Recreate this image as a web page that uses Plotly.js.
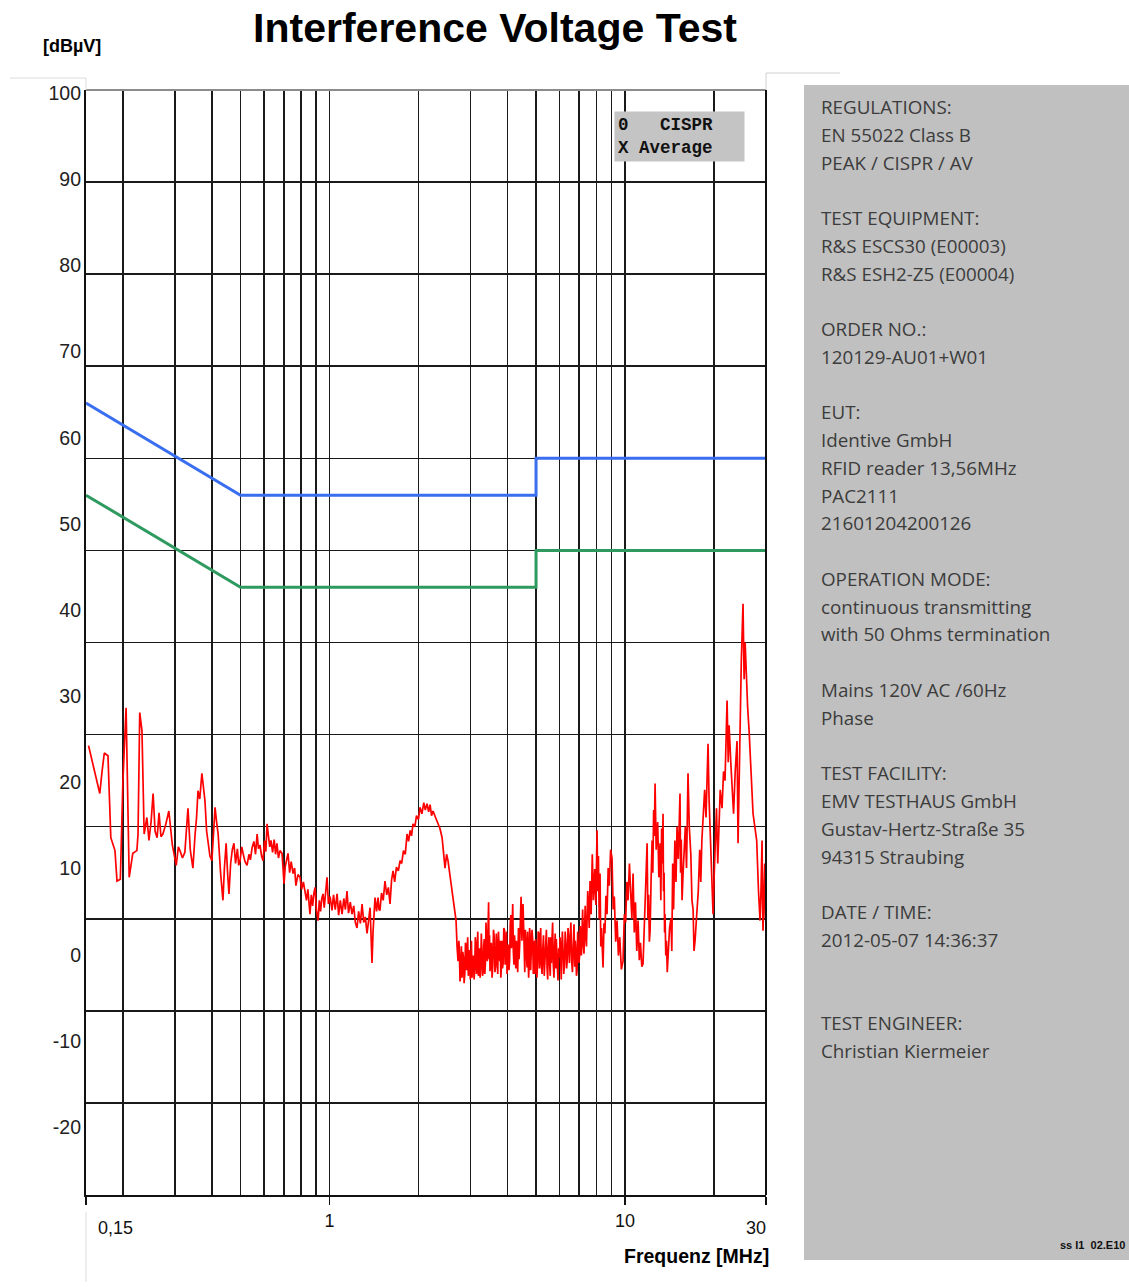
<!DOCTYPE html>
<html>
<head>
<meta charset="utf-8">
<script src="https://cdn.plot.ly/plotly-3.0.1.min.js"></script>
<style>
  html, body { margin: 0; padding: 0; background: #ffffff; }
  #chart { width: 1129px; height: 1287px; }
</style>
</head>
<body>
<div id="chart"></div>
<script>
// ---------------- DATA ----------------
// Limit lines (EN 55022 Class B), frequency in MHz, level in dBµV
const limitFreq = [0.15, 0.5, 5, 5, 30];
const cisprLimit = [66, 56, 56, 60, 60];     // quasi-peak (blue)
const averageLimit = [56, 46, 46, 50, 50];   // average (green)

const scanLow = [
  [0.153,28.8],[0.158,27.0],[0.163,25.0],[0.167,23.6],[0.170,26.0],[0.173,28.0],[0.178,27.7],[0.182,18.8],[0.188,17.4],[0.191,14.1],
  [0.196,14.3],[0.200,25.0],[0.205,32.9],[0.206,28.6],[0.210,14.5],[0.216,17.1],[0.223,17.4],[0.225,19.2],[0.228,32.4],[0.232,30.4],
  [0.236,19.2],[0.241,21.0],[0.245,18.5],[0.249,20.5],[0.253,23.6],[0.257,19.5],[0.261,18.8],[0.265,21.5],[0.269,18.9],[0.273,19.2],
  [0.279,20.2],[0.286,21.7],[0.294,18.0],[0.303,15.8],[0.308,17.8],[0.312,17.4],[0.318,16.6],[0.324,17.2],[0.332,22.0],[0.338,17.5],
  [0.345,15.5],[0.351,19.2],[0.355,21.0],[0.359,23.9],[0.364,23.0],[0.370,25.8],[0.375,24.0],[0.379,22.8],[0.384,19.5],[0.388,18.3],
  [0.394,16.8],[0.400,16.3],[0.405,19.5],[0.410,22.1],[0.415,20.5],[0.420,19.2],[0.428,15.0],[0.436,12.0],[0.441,15.5],[0.447,18.2],
  [0.452,15.0],[0.457,12.7],[0.463,16.0],[0.469,17.5],[0.475,18.2],[0.481,16.0],[0.488,17.6],[0.493,15.8],[0.498,16.3]
];
const scanMid = [
  [0.505,17.8],[0.510,17.1],[0.518,16.2],[0.526,15.8],[0.534,17.0],[0.540,16.4],[0.547,17.7],[0.555,18.4],[0.562,17.0],[0.569,19.2],
  [0.575,17.6],[0.582,18.0],[0.589,16.8],[0.596,16.3],[0.603,18.5],[0.609,17.3],[0.615,20.3],[0.622,18.9],[0.628,17.8],[0.634,18.5],
  [0.642,17.2],[0.650,18.6],[0.657,17.0],[0.664,18.2],[0.672,16.6],[0.680,17.4],[0.691,17.1],[0.702,13.8],[0.708,15.6],[0.716,16.4],
  [0.724,17.1],[0.733,15.0],[0.742,16.2],[0.753,14.9],[0.762,15.5],[0.770,13.6],[0.782,14.8],[0.795,14.5],[0.805,13.2],[0.816,14.0],
  [0.827,13.0],[0.836,12.0],[0.845,13.2],[0.859,10.5],[0.868,12.6],[0.877,11.4],[0.886,12.8],[0.894,13.4],[0.903,11.0],[0.915,9.8],
  [0.924,12.0],[0.933,10.8],[0.942,12.2],[0.951,12.7],[0.960,11.2],[0.970,13.0],[0.981,14.5],[0.992,11.6],[1.005,12.4],[1.020,10.9],
  [1.032,12.6],[1.046,11.0],[1.061,12.7],[1.074,10.4],[1.088,12.0],[1.103,10.5],[1.118,12.2],[1.132,11.0],[1.146,13.0],[1.160,10.6],
  [1.176,11.8],[1.192,10.5],[1.208,11.4],[1.223,9.6],[1.239,9.0],[1.255,10.8],[1.272,9.5],[1.289,11.6],[1.306,9.6],[1.322,10.2],
  [1.340,8.4],[1.356,9.8],[1.372,11.2],[1.383,8.0],[1.393,5.2],[1.404,8.6],[1.415,10.5],[1.426,12.3]
];
const scanHump = [
  [1.443,10.8],[1.460,12.3],[1.471,11.0],[1.482,10.9],[1.500,12.8],[1.520,12.0],[1.541,14.1],[1.562,12.6],[1.582,13.4],[1.603,11.6],
  [1.622,14.2],[1.641,15.2],[1.662,14.0],[1.685,15.6],[1.710,15.2],[1.733,16.3],[1.755,16.0],[1.780,17.4],[1.805,17.0],[1.830,19.2],
  [1.852,18.4],[1.875,19.6],[1.895,19.0],[1.917,20.3],[1.945,20.0],[1.970,21.2],[2.000,20.8],[2.025,22.1],[2.055,21.4],[2.085,22.6],
  [2.110,21.8],[2.139,22.5],[2.165,21.6],[2.190,22.4],[2.215,21.2],[2.241,21.7],[2.285,21.0],[2.331,20.3],[2.365,19.8],[2.405,18.8],
  [2.432,17.2],[2.460,15.5],[2.490,17.0],[2.518,16.3],[2.555,14.8],[2.598,13.0],[2.640,11.8],[2.681,9.8],[2.702,7.0],[2.723,5.4]
];
const scanFloor = [
  [2.74,7.6],[2.75,6.8],[2.765,3.2],[2.78,4.2],[2.795,7.0],[2.809,3.6],[2.825,6.4],[2.84,5.8],[2.855,3.0],[2.87,4.0],
  [2.885,7.4],[2.90,7.0],[2.91,4.4],[2.921,6.2],[2.935,8.0],[2.95,3.8],[2.965,5.4],[2.98,6.6],[2.995,3.4],[3.01,4.6],
  [3.022,7.6],[3.036,3.6],[3.05,5.6],[3.07,6.0],[3.085,3.4],[3.10,4.4],[3.115,8.0],[3.13,7.2],[3.145,4.0],[3.157,5.4],
  [3.175,8.6],[3.19,3.8],[3.205,6.0],[3.22,6.8],[3.235,3.6],[3.25,5.0],[3.265,8.4],[3.282,6.8],[3.295,3.8],[3.31,4.2],
  [3.325,7.0],[3.34,7.8],[3.355,4.0],[3.37,5.2],[3.385,9.6],[3.40,8.2],[3.42,5.4],[3.44,9.0],[3.455,11.8],[3.47,5.6],
  [3.48,8.2],[3.494,4.3],[3.51,6.0],[3.53,7.4],[3.55,3.6],[3.57,5.0],[3.59,8.8],[3.61,8.0],[3.63,4.2],[3.65,4.8],
  [3.67,8.4],[3.69,6.2],[3.71,4.0],[3.73,8.6],[3.75,6.2],[3.77,5.4],[3.785,7.6],[3.80,3.6],[3.82,5.0],[3.836,7.6],
  [3.85,4.6],[3.87,5.2],[3.89,9.0],[3.91,8.8],[3.93,5.0],[3.95,6.0],[3.97,8.6],[3.989,4.0],[4.01,6.2],[4.03,7.2],
  [4.05,4.4],[4.07,5.6],[4.09,9.4],[4.11,10.4],[4.13,6.8],[4.148,9.5],[4.17,11.6],[4.19,6.4],[4.21,5.0],[4.23,8.2],
  [4.25,6.0],[4.27,4.6],[4.29,7.6],[4.313,6.2],[4.335,4.2],[4.36,9.0],[4.38,5.6],[4.40,7.0],[4.42,10.0],[4.45,12.4],
  [4.48,7.6],[4.518,11.6],[4.54,9.0],[4.56,6.8],[4.58,4.2],[4.60,8.8],[4.63,6.4],[4.662,4.7],[4.68,8.6],[4.70,7.0],
  [4.72,3.6],[4.74,5.6],[4.755,9.0],[4.772,8.4],[4.795,4.4],[4.82,6.0],[4.845,8.8],[4.87,7.8],[4.895,4.0],[4.92,5.0],
  [4.94,7.6],[4.962,4.0],[4.985,7.8],[5.01,6.8],[5.035,3.6],[5.06,5.2],[5.085,8.6],[5.11,8.4],[5.135,4.6],[5.159,7.9],
  [5.185,9.0],[5.21,5.0],[5.24,4.0],[5.27,6.8],[5.30,8.2],[5.33,3.8],[5.36,5.4],[5.39,7.0],[5.42,8.8],[5.448,4.7],
  [5.475,3.4],[5.50,6.6],[5.53,8.0],[5.56,5.0],[5.585,3.8],[5.61,8.0],[5.635,5.2],[5.664,7.9],[5.69,9.6],[5.72,5.0],
  [5.75,3.6],[5.78,6.8],[5.805,8.4],[5.83,4.6],[5.855,7.8],[5.88,6.2],[5.905,4.2],[5.934,3.3],[5.965,6.8],[6.00,5.8],
  [6.03,8.0],[6.06,4.4],[6.085,3.4],[6.11,7.0],[6.14,8.6],[6.171,6.5],[6.205,4.0],[6.24,5.0],[6.275,8.6],[6.31,7.4],
  [6.345,4.6],[6.38,5.6],[6.415,9.0],[6.45,8.0],[6.485,5.2],[6.518,7.6],[6.56,9.6],[6.60,5.4],[6.64,4.2],[6.68,7.0],
  [6.72,9.4],[6.76,4.8],[6.79,7.6],[6.82,6.4],[6.85,3.8],[6.882,4.3],[6.915,8.6],[6.95,7.2],[6.985,5.2],[7.02,6.0],
  [7.055,9.2],[7.09,8.4],[7.12,6.0],[7.155,8.7],[7.19,11.0],[7.23,7.0],[7.265,6.2],[7.30,9.2],[7.335,11.4],[7.37,8.0],
  [7.405,7.0],[7.440,9.8],[7.48,13.0],[7.52,11.6],[7.565,9.0],[7.616,14.1]
];
const scanHigh = [
  [7.68,10.5],[7.75,17.0],[7.82,12.0],[7.90,15.4],[7.97,11.5],[8.042,19.6],[8.09,13.0],[8.13,16.8],[8.18,10.0],[8.232,14.9],
  [8.28,7.0],[8.33,9.0],[8.38,5.0],[8.426,4.7],[8.49,9.5],[8.55,8.4],[8.62,12.5],[8.693,10.5],[8.77,15.5],[8.85,13.6],
  [8.94,17.5],[9.039,16.6],[9.12,11.0],[9.20,12.4],[9.30,7.5],[9.399,9.8],[9.50,6.0],[9.60,8.0],[9.72,4.5],[9.848,5.4],
  [9.95,10.5],[10.05,9.6],[10.15,14.0],[10.24,12.0],[10.35,16.0],[10.45,13.2],[10.55,10.0],[10.65,14.9],[10.75,8.5],[10.85,11.8],
  [10.96,6.5],[11.07,9.8],[11.18,5.5],[11.28,7.4],[11.40,4.8],[11.51,5.1],[11.60,9.0],[11.70,12.0],[11.79,16.0],[11.88,18.2],
  [11.95,10.0],[12.02,12.6],[12.09,7.5],[12.16,8.7],[12.25,14.0],[12.35,18.5],[12.42,15.0],[12.50,21.8],[12.57,19.0],[12.64,24.7],
  [12.75,17.5],[12.90,20.5],[13.02,14.5],[13.14,18.2],[13.22,12.0],[13.30,19.8],[13.38,16.0],[13.45,21.4],[13.50,13.0],[13.56,15.0],
  [13.61,8.5],[13.66,10.5],[13.74,6.0],[13.82,7.6],[13.90,4.2],[13.99,5.8],[14.15,9.0],[14.30,10.0],[14.40,6.5],[14.50,16.0],
  [14.60,11.0],[14.75,18.5],[14.88,14.0],[15.00,20.0],[15.15,16.5],[15.35,23.6],[15.42,15.0],[15.50,18.6],[15.60,12.0],[15.72,14.9],
  [15.85,18.0],[16.00,20.0],[16.15,15.5],[16.34,25.8],[16.50,20.0],[16.70,17.0],[16.85,12.0],[17.00,11.0],[17.12,6.5],[17.26,7.6],
  [17.45,10.0],[17.70,13.0],[17.90,17.5],[18.05,14.0],[18.20,18.5],[18.40,22.0],[18.60,24.0],[18.80,21.0],[19.10,29.0],[19.25,23.0],
  [19.40,20.0],[19.60,15.0],[19.86,10.5],[20.00,14.0],[20.17,17.7],[20.40,22.0],[20.60,16.0],[20.80,19.5],[21.00,24.0],[21.30,22.0],
  [21.55,26.0],[21.80,25.0],[22.00,30.0],[22.15,33.7],[22.35,27.0],[22.50,31.0],[22.80,27.0],[23.00,24.0],[23.30,21.4],[23.60,26.0],
  [23.94,29.3],[24.13,18.2],[24.30,25.0],[24.50,32.0],[24.75,38.0],[25.08,44.2],[25.30,36.0],[25.50,40.0],[25.70,36.0],[26.00,33.0],
  [26.30,30.4],[26.70,25.0],[27.12,21.4],[27.50,20.0],[27.90,18.5],[28.30,13.0],[28.64,9.8],[28.85,13.0],[29.09,18.5],[29.20,12.0],
  [29.31,8.7],[29.50,12.5],[29.70,16.0],[29.85,10.0],[30.0,12.0]
];

// Axis tick labels
const yTickValues = [100, 90, 80, 70, 60, 50, 40, 30, 20, 10, 0, -10, -20];
const xMajorTicks = [0.15, 1, 10, 30];
const xMajorText = ['', '1', '10', ''];
const xMinorTicks = [0.2, 0.3, 0.4, 0.5, 0.6, 0.7, 0.8, 0.9, 2, 3, 4, 5, 6, 7, 8, 9, 20];

// Legend box text
const legendLines = ['0\u00a0\u00a0\u00a0CISPR', 'X Average'];

// Side panel text
const panelLines = [
  'REGULATIONS:', 'EN 55022 Class B', 'PEAK / CISPR / AV', '',
  'TEST EQUIPMENT:', 'R&S ESCS30 (E00003)', 'R&S ESH2-Z5 (E00004)', '',
  'ORDER NO.:', '120129-AU01+W01', '',
  'EUT:', 'Identive GmbH', 'RFID reader 13,56MHz', 'PAC2111', '21601204200126', '',
  'OPERATION MODE:', 'continuous transmitting', 'with 50 Ohms termination', '',
  'Mains 120V AC /60Hz', 'Phase', '',
  'TEST FACILITY:', 'EMV TESTHAUS GmbH', 'Gustav-Hertz-Straße 35', '94315 Straubing', '',
  'DATE / TIME:', '2012-05-07 14:36:37', '', '',
  'TEST ENGINEER:', 'Christian Kiermeier'
];

// ---------------- LAYOUT HELPERS (pixel -> paper) ----------------
const L = 86, R = 766, T = 90, B = 1195;
const px = x => (x - L) / (R - L);
const py = y => (B - y) / (B - T);

const scanTrace = [].concat(scanLow, scanMid, scanHump, scanFloor, scanHigh);
const scanFreq = scanTrace.map(p => p[0]);
const scanLevel = scanTrace.map(p => p[1]);

const traces = [
  { x: limitFreq, y: cisprLimit, type: 'scatter', mode: 'lines', name: 'CISPR',
    line: { color: '#3a6ef0', width: 3 }, hoverinfo: 'skip' },
  { x: limitFreq, y: averageLimit, type: 'scatter', mode: 'lines', name: 'Average',
    line: { color: '#2e9a60', width: 3 }, hoverinfo: 'skip' },
  { x: scanFreq, y: scanLevel, type: 'scatter', mode: 'lines', name: 'Scan',
    line: { color: '#ff0000', width: 1.7 }, hoverinfo: 'skip' },
  // invisible carrier for the label-only y axis
  { x: [1], y: [50], yaxis: 'y2', type: 'scatter', mode: 'markers',
    marker: { opacity: 0 }, showlegend: false, hoverinfo: 'skip' }
];

const sansFont = 'Liberation Sans, Arial, sans-serif';

const annotations = [
  { text: '[dBµV]', xref: 'paper', yref: 'paper', x: px(72), y: py(46), xanchor: 'center', yanchor: 'middle',
    showarrow: false, font: { family: sansFont, size: 18, weight: 'bold', color: '#000' } },
  { text: '0,15', xref: 'paper', yref: 'paper', x: px(96), y: py(1228), xanchor: 'left', yanchor: 'middle',
    showarrow: false, font: { family: sansFont, size: 18, color: '#111' } },
  { text: '30', xref: 'paper', yref: 'paper', x: px(768), y: py(1228), xanchor: 'right', yanchor: 'middle',
    showarrow: false, font: { family: sansFont, size: 18, color: '#111' } },
  { text: 'Frequenz [MHz]', xref: 'paper', yref: 'paper', x: px(771), y: py(1256), xanchor: 'right', yanchor: 'middle',
    showarrow: false, font: { family: sansFont, size: 19.5, weight: 'bold', color: '#000' } },
  { text: legendLines.join('<br>'), xref: 'paper', yref: 'paper', x: px(614), y: py(111), xanchor: 'left', yanchor: 'top',
    align: 'left', valign: 'middle', showarrow: false, bgcolor: '#c4c4c4', borderpad: 3, width: 123, height: 43,
    font: { family: 'Liberation Mono, Courier New, monospace', size: 17.5, weight: 'bold', color: '#111' } },
  { text: 'ss I1  02.E10', xref: 'paper', yref: 'paper', x: px(1127), y: py(1245), xanchor: 'right', yanchor: 'middle',
    showarrow: false, font: { family: sansFont, size: 11, weight: 'bold', color: '#111' } }
];

const lineStep = 27.76;
panelLines.forEach((t, i) => {
  if (!t) return;
  annotations.push({
    text: t, xref: 'paper', yref: 'paper', x: px(819), y: py(107 + i * lineStep),
    xanchor: 'left', yanchor: 'middle', showarrow: false,
    font: { family: 'Open Sans, Noto Sans, sans-serif', size: 18.8, color: '#3c3c3c' }
  });
});

const shapes = [
  // side panel
  { type: 'rect', xref: 'paper', yref: 'paper', x0: px(804), x1: px(1135), y0: py(1260), y1: py(85),
    fillcolor: '#c0c0c0', line: { width: 0 }, layer: 'below' },
  // top border (grey) and right border (black)
  { type: 'line', xref: 'paper', yref: 'paper', x0: 0, x1: 1, y0: 1, y1: 1, line: { color: '#8c8c8c', width: 2 } },
  { type: 'line', xref: 'paper', yref: 'paper', x0: 1, x1: 1, y0: 0, y1: 1, line: { color: '#111', width: 2 } },
  // faint frame lines
  { type: 'line', xref: 'paper', yref: 'paper', x0: px(10), x1: px(86), y0: py(78), y1: py(78), line: { color: '#dcdcdc', width: 1 } },
  { type: 'line', xref: 'paper', yref: 'paper', x0: px(86), x1: px(86), y0: py(78), y1: py(90), line: { color: '#dcdcdc', width: 1 } },
  { type: 'line', xref: 'paper', yref: 'paper', x0: px(86), x1: px(86), y0: py(1212), y1: py(1282), line: { color: '#dcdcdc', width: 1 } },
  { type: 'line', xref: 'paper', yref: 'paper', x0: px(766), x1: px(840), y0: py(73), y1: py(73), line: { color: '#d0d0d0', width: 1 } },
  { type: 'line', xref: 'paper', yref: 'paper', x0: px(766), x1: px(766), y0: py(73), y1: py(90), line: { color: '#d0d0d0', width: 1 } }
];

const layout = {
  width: 1129, height: 1287,
  margin: { l: L, r: 1129 - R, t: T, b: 1287 - B, pad: 0 },
  paper_bgcolor: '#ffffff', plot_bgcolor: '#ffffff',
  showlegend: false,
  title: {
    text: 'Interference Voltage Test', xref: 'container', yref: 'container',
    x: 495 / 1129, xanchor: 'center', y: 1 - 28 / 1287, yanchor: 'middle',
    font: { family: sansFont, size: 41, weight: 'bold', color: '#000' }
  },
  xaxis: {
    type: 'log', range: [Math.log10(0.15), Math.log10(30)],
    tickmode: 'array', tickvals: xMajorTicks, ticktext: xMajorText,
    ticks: 'outside', ticklen: 8, tickwidth: 1.5, tickcolor: '#111',
    tickfont: { family: sansFont, size: 18, color: '#111' },
    showgrid: true, gridcolor: '#1a1a1a', gridwidth: 1.6,
    minor: { tickvals: xMinorTicks, showgrid: true, gridcolor: '#1a1a1a', gridwidth: 1.6, ticks: '' },
    showline: true, linecolor: '#111', linewidth: 2,
    zeroline: false, fixedrange: true
  },
  yaxis: {
    range: [-20, 100], tickmode: 'array', tickvals: [-10, 0, 10, 20, 30, 40, 50, 60, 70, 80, 90],
    showticklabels: false, ticks: '',
    showgrid: true, gridcolor: '#1a1a1a', gridwidth: 1.6,
    showline: true, linecolor: '#111', linewidth: 2,
    zeroline: false, fixedrange: true
  },
  // label-only axis reproducing the original label placement
  yaxis2: {
    overlaying: 'y', side: 'left', range: [-27.89, 100.35],
    tickmode: 'array', tickvals: yTickValues, ticktext: yTickValues.map(String),
    ticks: '', showgrid: false, zeroline: false, showline: false,
    tickfont: { family: sansFont, size: 19.5, color: '#222' },
    ticklabelstandoff: 4, fixedrange: true
  },
  shapes: shapes,
  annotations: annotations
};

Plotly.newPlot('chart', traces, layout, { displayModeBar: false, staticPlot: true });
</script>
</body>
</html>
